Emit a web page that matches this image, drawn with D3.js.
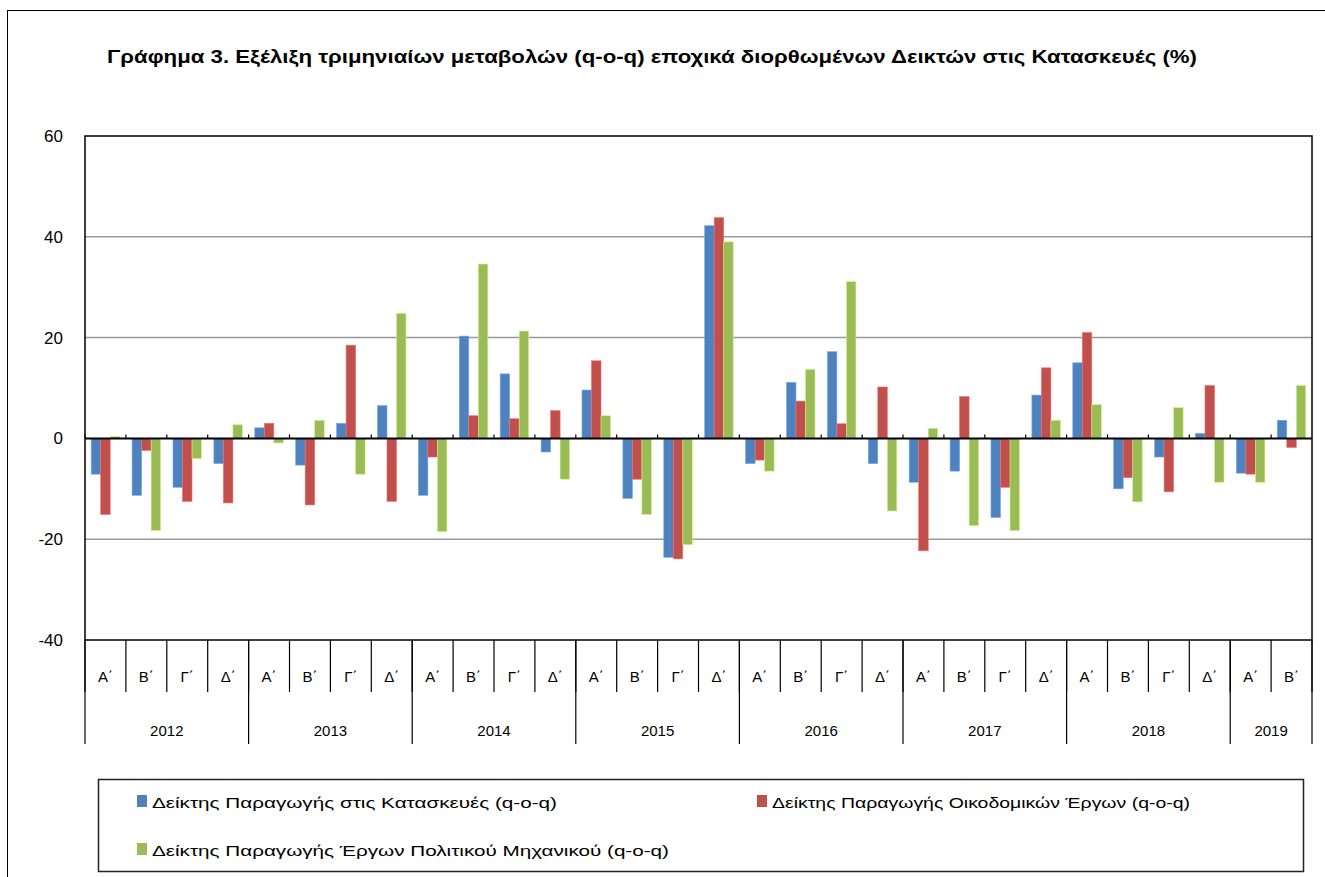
<!DOCTYPE html>
<html>
<head>
<meta charset="utf-8">
<script src="https://cdn.jsdelivr.net/npm/d3@7"></script>
<style>
  body { margin: 0; background: #fff; }
  text { font-family: "Liberation Sans", Arial, sans-serif; fill: #000; }
</style>
</head>
<body>
<script>
// quarters and years
const quarters = ["Α΄", "Β΄", "Γ΄", "Δ΄"];
const years = [2012, 2013, 2014, 2015, 2016, 2017, 2018, 2019];
const quartersPerYear = [4, 4, 4, 4, 4, 4, 4, 2];

const seriesNames = [
  "Δείκτης Παραγωγής στις Κατασκευές (q-o-q)",
  "Δείκτης Παραγωγής Οικοδομικών Έργων (q-o-q)",
  "Δείκτης Παραγωγής Έργων Πολιτικού Μηχανικού (q-o-q)"
];
const seriesColors = ["#4F81BD", "#C0504D", "#9BBB59"];

// values, 2012 Α΄ ... 2019 Β΄
const construction = [-7.1, -11.3, -9.7, -5.0, 2.1, -5.3, 3.0, 6.5, -11.3, 20.3, 12.8, -2.7,
  9.6, -11.9, -23.6, 42.2, -5.0, 11.1, 17.2, -5.0, -8.7, -6.5, -15.7, 8.6,
  15.0, -10.0, -3.7, 1.0, -6.9, 3.6];
const building = [-15.1, -2.4, -12.5, -12.8, 3.0, -13.2, 18.5, -12.5, -3.7, 4.5, 3.9, 5.5,
  15.4, -8.1, -23.9, 43.8, -4.3, 7.4, 2.9, 10.2, -22.3, 8.3, -9.7, 14.0,
  21.0, -7.8, -10.6, 10.5, -7.1, -1.8];
const civilEng = [0.4, -18.3, -4.0, 2.7, -0.9, 3.6, -7.1, 24.8, -18.5, 34.6, 21.3, -8.1,
  4.5, -15.1, -21.1, 39.0, -6.5, 13.7, 31.1, -14.4, 2.0, -17.3, -18.3, 3.6,
  6.7, -12.6, 6.1, -8.7, -8.7, 10.5];
const yTicks = [-40, -20, 0, 20, 40, 60];

const allSeries = [construction, building, civilEng];

// build category list
let categories = [];
years.forEach(function(yr, i) {
  for (let q = 0; q < quartersPerYear[i]; q++) {
    categories.push({ key: yr + "-" + q, year: yr, q: quarters[q] });
  }
});

const svg = d3.select("body").append("svg")
  .attr("width", 1325)
  .attr("height", 877);

// outer chart frame
svg.append("rect")
  .attr("x", 7.5).attr("y", 10.5)
  .attr("width", 1330).attr("height", 880)
  .attr("fill", "none").attr("stroke", "#000").attr("stroke-width", 1);

// title
svg.append("text")
  .attr("x", 652).attr("y", 63)
  .attr("text-anchor", "middle")
  .attr("font-weight", "bold")
  .attr("font-size", 17.5)
  .attr("textLength", 1090)
  .attr("lengthAdjust", "spacingAndGlyphs")
  .text("Γράφημα 3. Εξέλιξη τριμηνιαίων μεταβολών (q-o-q) εποχικά διορθωμένων Δεικτών  στις Κατασκευές (%)");

const plotLeft = 85, plotRight = 1312, plotTop = 136, plotBottom = 640;

const x = d3.scaleBand()
  .domain(categories.map(d => d.key))
  .range([plotLeft, plotRight])
  .paddingInner(0).paddingOuter(0);
const bw = x.bandwidth();

const x1 = d3.scaleBand()
  .domain([0, 1, 2])
  .range([0, bw])
  .paddingInner(0)
  .paddingOuter(0.65);

const y = d3.scaleLinear().domain([-40, 60]).range([plotBottom, plotTop]);

// gridlines
svg.append("g").selectAll("line")
  .data(yTicks.filter(t => t != 0 && t != 60 && t != -40))
  .join("line")
  .attr("x1", plotLeft).attr("x2", plotRight)
  .attr("y1", d => y(d)).attr("y2", d => y(d))
  .attr("stroke", "#999").attr("stroke-width", 1.5);

// y axis labels
const yAxis = d3.axisLeft(y).tickValues(yTicks).tickSize(0).tickPadding(22)
  .tickFormat(d => String(d));
const yg = svg.append("g").attr("transform", "translate(" + plotLeft + ",0)").call(yAxis);
yg.select(".domain").remove();
yg.selectAll("text").attr("font-size", 17).attr("font-family", "Liberation Sans, Arial, sans-serif");

// bars
for (let s = 0; s < allSeries.length; s++) {
  svg.append("g").selectAll("rect")
    .data(allSeries[s])
    .join("rect")
    .attr("x", (d, i) => x(categories[i].key) + x1(s))
    .attr("width", x1.bandwidth())
    .attr("y", d => y(Math.max(0, d)))
    .attr("height", d => Math.abs(y(d) - y(0)))
    .attr("fill", seriesColors[s])
    .attr("stroke", d3.color(seriesColors[s]).brighter(0.8))
    .attr("stroke-width", 0.6);
}

// plot border
svg.append("rect")
  .attr("x", plotLeft).attr("y", plotTop)
  .attr("width", plotRight - plotLeft).attr("height", plotBottom - plotTop)
  .attr("fill", "none").attr("stroke", "#000").attr("stroke-width", 1.5);

// zero axis with small ticks
svg.append("line")
  .attr("x1", plotLeft).attr("x2", plotRight)
  .attr("y1", y(0)).attr("y2", y(0))
  .attr("stroke", "#000").attr("stroke-width", 2);
svg.append("g").selectAll("line")
  .data(categories)
  .join("line")
  .attr("x1", d => x(d.key)).attr("x2", d => x(d.key))
  .attr("y1", y(0) - 4).attr("y2", y(0))
  .attr("stroke", "#000").attr("stroke-width", 1.2);

// category separators below plot
const boundaries = categories.map(d => x(d.key)).concat([plotRight]);
svg.append("g").selectAll("line")
  .data(boundaries)
  .join("line")
  .attr("x1", d => d).attr("x2", d => d)
  .attr("y1", plotBottom).attr("y2", plotBottom + 52)
  .attr("stroke", "#000").attr("stroke-width", 1.2);

// quarter labels
svg.append("g").selectAll("text")
  .data(categories)
  .join("text")
  .attr("x", d => x(d.key) + bw / 2)
  .attr("y", plotBottom + 42)
  .attr("text-anchor", "middle")
  .attr("font-size", 15)
  .text(d => d.q);

// year separators and labels
let yearStarts = [];
let idx = 0;
years.forEach(function(yr, i) {
  yearStarts.push({ year: yr, start: idx, end: idx + quartersPerYear[i] });
  idx += quartersPerYear[i];
});
const yearEdge = i => i < categories.length ? x(categories[i].key) : plotRight;

svg.append("g").selectAll("line")
  .data(yearStarts.map(d => d.start).concat([categories.length]))
  .join("line")
  .attr("x1", d => yearEdge(d)).attr("x2", d => yearEdge(d))
  .attr("y1", plotBottom).attr("y2", plotBottom + 104)
  .attr("stroke", "#000").attr("stroke-width", 1.2);

svg.append("g").selectAll("text")
  .data(yearStarts)
  .join("text")
  .attr("x", d => (yearEdge(d.start) + yearEdge(d.end)) / 2)
  .attr("y", plotBottom + 96)
  .attr("text-anchor", "middle")
  .attr("font-size", 15)
  .text(d => d.year);

// legend
svg.append("rect")
  .attr("x", 98.5).attr("y", 779.5)
  .attr("width", 1205).attr("height", 92)
  .attr("fill", "#fff").attr("stroke", "#222").attr("stroke-width", 1.5);

const legendPos = [[137, 808], [757, 808], [137, 856]];
const legendLen = [405, 418, 517];
const lg = svg.append("g").selectAll("g")
  .data(seriesNames)
  .join("g")
  .attr("transform", (d, i) => "translate(" + legendPos[i][0] + "," + legendPos[i][1] + ")");
lg.append("rect")
  .attr("x", 0).attr("y", -13)
  .attr("width", 10).attr("height", 12)
  .attr("fill", (d, i) => seriesColors[i]);
lg.append("text")
  .attr("x", 15).attr("y", 0)
  .attr("font-size", 15.5)
  .attr("textLength", (d, i) => legendLen[i])
  .attr("lengthAdjust", "spacingAndGlyphs")
  .text(d => d);
</script>
</body>
</html>
